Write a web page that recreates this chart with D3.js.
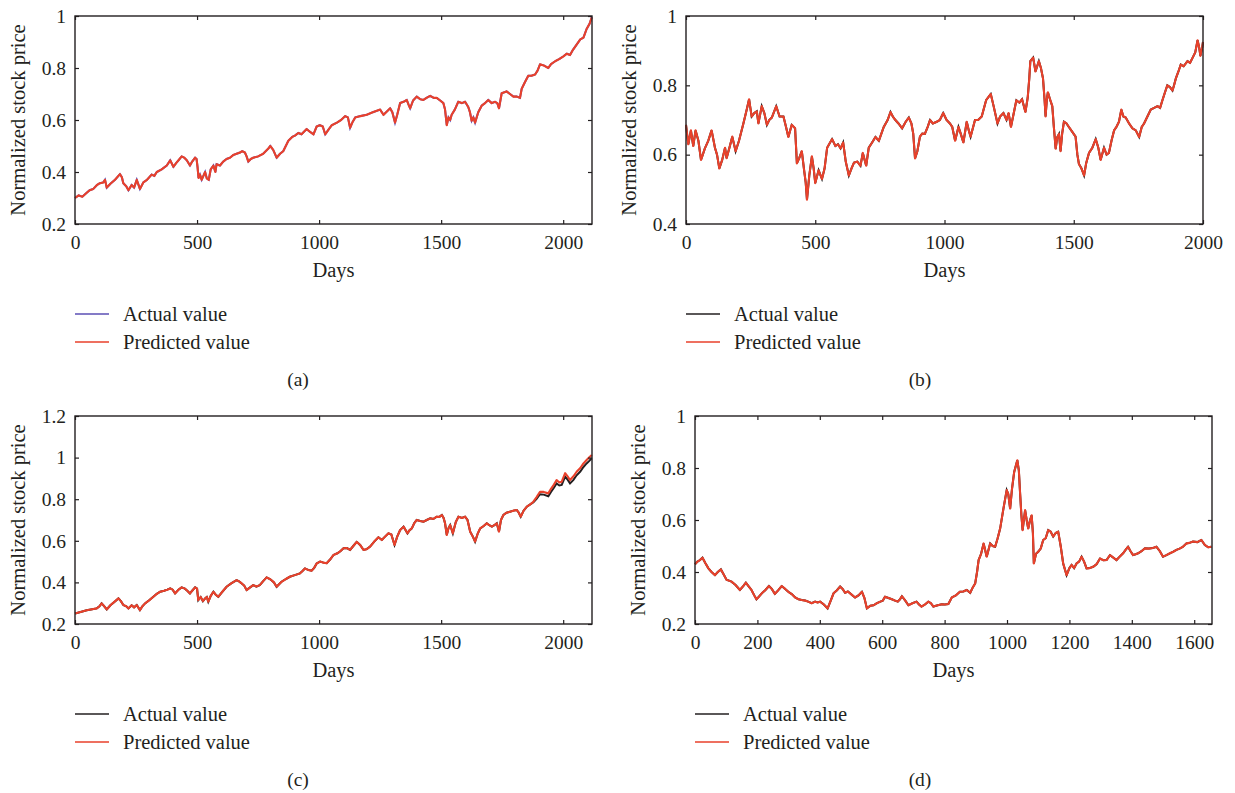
<!DOCTYPE html>
<html>
<head>
<meta charset="utf-8">
<script src="https://cdn.jsdelivr.net/npm/d3@7"></script>
<style>
    body { margin: 0; background: #fff; }
    text { font-family: "Liberation Serif", "DejaVu Serif", serif; fill: #231f20; }
</style>
</head>
<body>
<div id="chart"></div>
<script>
(function(d3) {
    'use strict';

    // [day, normalized price]
    var seriesA = [[0,0.300],[15,0.31],[30,0.305],[48,0.32],[60,0.33],[75,0.335],[90,0.35],[102,0.357],[116,0.36],[123,0.37],[130,0.34],[145,0.355],[164,0.37],[184,0.392],[192,0.38],[198,0.357],[210,0.345],[219,0.33],[232,0.35],[242,0.34],[253,0.37],[266,0.335],[280,0.36],[295,0.37],[314,0.39],[325,0.385],[335,0.40],[355,0.41],[376,0.425],[390,0.445],[403,0.42],[415,0.435],[424,0.445],[437,0.46],[448,0.455],[458,0.445],[471,0.425],[480,0.44],[492,0.455],[498,0.45],[502,0.42],[506,0.377],[512,0.39],[519,0.37],[526,0.385],[533,0.40],[540,0.375],[548,0.37],[556,0.41],[567,0.425],[575,0.40],[580,0.43],[594,0.425],[607,0.44],[621,0.45],[635,0.455],[648,0.465],[662,0.47],[676,0.475],[685,0.48],[696,0.475],[703,0.46],[710,0.44],[720,0.45],[730,0.455],[750,0.46],[771,0.47],[792,0.49],[800,0.50],[812,0.485],[826,0.455],[840,0.47],[853,0.48],[874,0.52],[890,0.535],[901,0.54],[915,0.55],[928,0.545],[949,0.565],[962,0.555],[977,0.545],[990,0.575],[1003,0.58],[1015,0.575],[1025,0.545],[1040,0.565],[1052,0.58],[1073,0.59],[1090,0.60],[1107,0.615],[1118,0.61],[1127,0.57],[1136,0.59],[1148,0.61],[1170,0.615],[1195,0.62],[1220,0.63],[1250,0.64],[1264,0.62],[1280,0.635],[1291,0.645],[1300,0.63],[1311,0.59],[1320,0.62],[1332,0.665],[1346,0.67],[1359,0.677],[1366,0.66],[1373,0.645],[1385,0.675],[1400,0.69],[1414,0.68],[1427,0.677],[1440,0.685],[1455,0.693],[1470,0.685],[1482,0.685],[1496,0.675],[1509,0.665],[1516,0.64],[1523,0.58],[1530,0.61],[1537,0.60],[1543,0.62],[1556,0.64],[1570,0.67],[1585,0.665],[1598,0.67],[1611,0.65],[1618,0.63],[1625,0.597],[1632,0.61],[1639,0.59],[1652,0.63],[1666,0.655],[1680,0.665],[1693,0.677],[1707,0.665],[1721,0.67],[1730,0.665],[1737,0.645],[1748,0.703],[1768,0.71],[1782,0.70],[1796,0.69],[1810,0.69],[1823,0.685],[1830,0.72],[1843,0.745],[1857,0.77],[1870,0.77],[1885,0.775],[1895,0.79],[1905,0.814],[1920,0.81],[1939,0.80],[1950,0.815],[1967,0.826],[1985,0.835],[2001,0.845],[2015,0.855],[2028,0.85],[2040,0.87],[2055,0.89],[2070,0.91],[2083,0.917],[2096,0.95],[2108,0.97],[2117,0.995]];

    var seriesB = [[0,0.686],[9,0.63],[19,0.67],[28,0.625],[37,0.67],[48,0.64],[58,0.585],[65,0.60],[73,0.618],[86,0.64],[99,0.67],[112,0.62],[120,0.60],[129,0.56],[140,0.585],[151,0.62],[157,0.59],[168,0.62],[179,0.652],[192,0.61],[205,0.64],[222,0.69],[235,0.73],[244,0.76],[254,0.71],[264,0.72],[274,0.725],[280,0.69],[293,0.74],[303,0.72],[313,0.686],[322,0.70],[332,0.707],[349,0.74],[362,0.71],[377,0.71],[387,0.68],[396,0.651],[409,0.686],[422,0.676],[429,0.575],[438,0.59],[448,0.61],[457,0.555],[463,0.52],[468,0.47],[477,0.54],[487,0.595],[494,0.56],[500,0.518],[513,0.555],[526,0.53],[536,0.56],[546,0.62],[565,0.645],[578,0.625],[588,0.63],[598,0.618],[608,0.635],[618,0.58],[630,0.54],[640,0.56],[650,0.577],[663,0.58],[675,0.568],[684,0.605],[697,0.568],[707,0.62],[720,0.635],[733,0.651],[746,0.64],[765,0.68],[780,0.70],[791,0.723],[800,0.71],[810,0.70],[822,0.69],[836,0.676],[850,0.695],[862,0.707],[872,0.69],[879,0.661],[886,0.589],[895,0.61],[905,0.652],[914,0.661],[924,0.66],[935,0.68],[944,0.70],[955,0.69],[970,0.695],[982,0.70],[995,0.72],[1008,0.70],[1021,0.69],[1030,0.68],[1041,0.64],[1054,0.68],[1063,0.66],[1073,0.635],[1086,0.695],[1094,0.67],[1101,0.652],[1118,0.70],[1130,0.70],[1144,0.71],[1161,0.757],[1179,0.775],[1190,0.74],[1205,0.69],[1215,0.71],[1228,0.72],[1240,0.70],[1248,0.72],[1257,0.68],[1268,0.72],[1278,0.757],[1290,0.75],[1300,0.76],[1313,0.723],[1322,0.765],[1328,0.82],[1332,0.87],[1343,0.88],[1352,0.84],[1365,0.87],[1373,0.85],[1381,0.82],[1387,0.76],[1391,0.71],[1396,0.76],[1400,0.78],[1408,0.76],[1417,0.74],[1423,0.68],[1430,0.617],[1436,0.65],[1443,0.66],[1449,0.61],[1455,0.66],[1462,0.695],[1472,0.69],[1481,0.68],[1495,0.665],[1507,0.652],[1514,0.60],[1520,0.573],[1530,0.56],[1540,0.54],[1548,0.575],[1559,0.605],[1572,0.62],[1585,0.645],[1595,0.62],[1604,0.585],[1617,0.62],[1627,0.60],[1636,0.605],[1646,0.64],[1656,0.67],[1665,0.68],[1675,0.695],[1684,0.73],[1692,0.71],[1701,0.707],[1714,0.69],[1727,0.676],[1740,0.67],[1753,0.651],[1763,0.68],[1772,0.69],[1785,0.71],[1798,0.73],[1811,0.735],[1824,0.74],[1834,0.735],[1843,0.757],[1853,0.78],[1862,0.80],[1872,0.795],[1882,0.785],[1888,0.80],[1895,0.82],[1905,0.84],[1914,0.86],[1925,0.855],[1940,0.87],[1950,0.865],[1960,0.88],[1970,0.895],[1979,0.93],[1985,0.91],[1990,0.885],[1997,0.91],[2000,0.925]];

    var predictedC = [[0,0.25],[15,0.255],[30,0.26],[48,0.266],[65,0.27],[89,0.275],[100,0.285],[109,0.299],[120,0.285],[130,0.27],[145,0.29],[160,0.305],[178,0.323],[188,0.31],[198,0.291],[210,0.285],[219,0.275],[232,0.29],[242,0.28],[253,0.291],[266,0.267],[276,0.285],[287,0.299],[305,0.315],[321,0.331],[335,0.345],[349,0.355],[365,0.36],[378,0.365],[390,0.371],[400,0.365],[410,0.347],[424,0.365],[437,0.376],[450,0.37],[460,0.36],[471,0.347],[480,0.36],[492,0.376],[500,0.37],[505,0.315],[515,0.33],[524,0.31],[533,0.323],[540,0.33],[546,0.307],[556,0.335],[567,0.355],[577,0.34],[587,0.331],[600,0.35],[621,0.379],[640,0.395],[662,0.411],[672,0.405],[683,0.395],[693,0.385],[703,0.363],[716,0.375],[730,0.387],[743,0.38],[757,0.387],[770,0.405],[785,0.424],[800,0.415],[815,0.40],[826,0.379],[835,0.39],[846,0.403],[862,0.415],[880,0.427],[900,0.435],[921,0.443],[932,0.455],[942,0.467],[955,0.46],[969,0.456],[980,0.47],[990,0.491],[1004,0.50],[1018,0.495],[1031,0.492],[1045,0.51],[1059,0.532],[1075,0.54],[1087,0.55],[1100,0.564],[1114,0.565],[1127,0.556],[1140,0.575],[1154,0.595],[1168,0.58],[1182,0.556],[1195,0.56],[1209,0.572],[1225,0.595],[1243,0.617],[1257,0.604],[1270,0.62],[1284,0.636],[1296,0.63],[1309,0.58],[1320,0.62],[1332,0.652],[1346,0.668],[1362,0.636],[1370,0.65],[1380,0.66],[1390,0.685],[1400,0.70],[1414,0.695],[1428,0.692],[1441,0.70],[1455,0.708],[1468,0.705],[1482,0.716],[1493,0.715],[1503,0.724],[1510,0.71],[1516,0.684],[1523,0.628],[1530,0.66],[1537,0.676],[1548,0.636],[1560,0.69],[1571,0.716],[1585,0.71],[1598,0.716],[1608,0.70],[1619,0.644],[1630,0.62],[1639,0.596],[1650,0.635],[1660,0.66],[1673,0.67],[1687,0.684],[1697,0.675],[1708,0.668],[1718,0.675],[1728,0.684],[1737,0.644],[1745,0.70],[1755,0.724],[1768,0.735],[1782,0.74],[1796,0.745],[1810,0.748],[1818,0.735],[1826,0.716],[1838,0.745],[1851,0.764],[1865,0.775],[1878,0.788],[1891,0.81],[1905,0.836],[1920,0.835],[1939,0.828],[1950,0.85],[1962,0.87],[1973,0.892],[1984,0.88],[1994,0.884],[2008,0.925],[2018,0.91],[2028,0.892],[2042,0.91],[2055,0.932],[2070,0.95],[2083,0.972],[2096,0.988],[2106,1.0],[2117,1.012]];

    // actual values in (c) split from the prediction near the end
    var actualCTail = [[1878,0.785],[1891,0.802],[1905,0.824],[1920,0.822],[1939,0.814],[1950,0.835],[1962,0.855],[1973,0.876],[1984,0.866],[1994,0.869],[2008,0.908],[2018,0.894],[2028,0.876],[2042,0.893],[2055,0.915],[2070,0.933],[2083,0.955],[2096,0.972],[2106,0.983],[2117,0.997]];

    var seriesD = [[0,0.43],[8,0.44],[16,0.446],[24,0.455],[33,0.435],[43,0.414],[53,0.40],[64,0.388],[73,0.40],[83,0.41],[92,0.39],[101,0.37],[117,0.363],[130,0.35],[144,0.331],[154,0.345],[163,0.359],[172,0.345],[181,0.331],[190,0.31],[197,0.295],[205,0.305],[214,0.318],[225,0.33],[237,0.346],[246,0.335],[256,0.316],[267,0.33],[278,0.346],[289,0.335],[299,0.324],[310,0.315],[321,0.302],[332,0.295],[342,0.292],[353,0.29],[363,0.286],[374,0.28],[385,0.286],[393,0.283],[401,0.286],[413,0.275],[425,0.26],[435,0.29],[444,0.318],[455,0.33],[465,0.344],[473,0.335],[481,0.32],[490,0.325],[497,0.318],[505,0.31],[513,0.302],[524,0.31],[535,0.324],[543,0.30],[551,0.26],[562,0.27],[572,0.272],[583,0.28],[594,0.286],[602,0.29],[609,0.305],[620,0.30],[631,0.295],[641,0.29],[650,0.286],[657,0.295],[663,0.307],[674,0.29],[684,0.272],[697,0.28],[710,0.286],[718,0.275],[726,0.267],[737,0.275],[748,0.286],[756,0.28],[764,0.267],[778,0.272],[791,0.276],[801,0.275],[812,0.277],[823,0.302],[836,0.31],[849,0.324],[860,0.325],[871,0.331],[882,0.32],[890,0.34],[898,0.356],[904,0.40],[909,0.446],[917,0.47],[925,0.51],[935,0.459],[946,0.51],[954,0.50],[962,0.497],[970,0.53],[978,0.567],[988,0.64],[999,0.715],[1004,0.70],[1010,0.644],[1016,0.72],[1023,0.785],[1033,0.83],[1038,0.79],[1042,0.702],[1046,0.62],[1050,0.561],[1058,0.638],[1063,0.60],[1068,0.567],[1074,0.60],[1079,0.618],[1083,0.55],[1086,0.433],[1093,0.47],[1100,0.478],[1108,0.49],[1116,0.523],[1124,0.53],[1132,0.561],[1140,0.555],[1148,0.536],[1156,0.55],[1164,0.555],[1172,0.50],[1180,0.433],[1191,0.388],[1200,0.415],[1207,0.427],[1215,0.415],[1223,0.433],[1231,0.44],[1239,0.459],[1247,0.44],[1255,0.414],[1265,0.415],[1276,0.42],[1287,0.43],[1298,0.452],[1309,0.445],[1319,0.446],[1330,0.465],[1341,0.455],[1351,0.446],[1362,0.46],[1372,0.472],[1380,0.485],[1388,0.497],[1396,0.48],[1404,0.465],[1412,0.468],[1420,0.472],[1431,0.48],[1442,0.491],[1455,0.49],[1467,0.492],[1479,0.497],[1490,0.48],[1500,0.459],[1511,0.465],[1522,0.472],[1533,0.478],[1543,0.485],[1553,0.49],[1564,0.497],[1575,0.51],[1585,0.512],[1596,0.517],[1610,0.515],[1623,0.523],[1634,0.504],[1645,0.495],[1655,0.497]];

    var xTicksLong = [0, 500, 1000, 1500, 2000];
    var xTicksD = [0, 200, 400, 600, 800, 1000, 1200, 1400, 1600];
    var yTicksA = [0.2, 0.4, 0.6, 0.8, 1];
    var yTicksB = [0.4, 0.6, 0.8, 1];
    var yTicksC = [0.2, 0.4, 0.6, 0.8, 1, 1.2];
    var legendLabels = ['Actual value', 'Predicted value'];
    var captions = ['(a)', '(b)', '(c)', '(d)'];

    var width = 1235,
        height = 793,
        plotW = 517,
        plotH = 208;

    var ink = '#231f20',
        red = '#e9412b';

    var svg = d3.select('#chart').append('svg')
        .attr('width', width)
        .attr('height', height);

    var actualC = predictedC.filter(function(d) { return d[0] < 1878; }).concat(actualCTail);

    var panels = [
        { left: 75, top: 16, xMax: 2118, xTicks: xTicksLong, yDom: [0.2, 1], yTicks: yTicksA,
          actual: seriesA, predicted: seriesA, actualColor: '#5b4fb5', cap: captions[0], capX: 298 },
        { left: 686, top: 16, xMax: 2000, xTicks: xTicksLong, yDom: [0.4, 1], yTicks: yTicksB,
          actual: seriesB, predicted: seriesB, actualColor: ink, cap: captions[1], capX: 920 },
        { left: 75, top: 416, xMax: 2118, xTicks: xTicksLong, yDom: [0.2, 1.2], yTicks: yTicksC,
          actual: actualC, predicted: predictedC, actualColor: ink, cap: captions[2], capX: 298 },
        { left: 695, top: 416, xMax: 1657, xTicks: xTicksD, yDom: [0.2, 1], yTicks: yTicksA,
          actual: seriesD, predicted: seriesD, actualColor: ink, cap: captions[3], capX: 920 }
    ];

    panels.forEach(drawPanel);

    function drawPanel(p) {
        var g = svg.append('g')
            .attr('transform', 'translate(' + p.left + ',' + p.top + ')');

        var x = d3.scaleLinear().domain([0, p.xMax]).range([0, plotW]);
        var y = d3.scaleLinear().domain(p.yDom).range([plotH, 0]);
        var fmt = d3.format('~g');

        var line = d3.line()
            .x(function(d) { return x(d[0]); })
            .y(function(d) { return y(d[1]); });

        g.append('path')
            .datum(p.actual)
            .attr('fill', 'none')
            .attr('stroke', p.actualColor)
            .attr('stroke-width', 2)
            .attr('d', line);

        g.append('path')
            .datum(p.predicted)
            .attr('fill', 'none')
            .attr('stroke', red)
            .attr('stroke-width', 2.1)
            .attr('stroke-linejoin', 'round')
            .attr('d', line);

        var axes = [
            { ax: d3.axisBottom(x).tickValues(p.xTicks).tickFormat(fmt).tickPadding(11), t: 'translate(0,' + plotH + ')' },
            { ax: d3.axisLeft(y).tickValues(p.yTicks).tickFormat(fmt).tickPadding(9), t: null },
            { ax: d3.axisTop(x).tickValues(p.xTicks).tickFormat(''), t: null },
            { ax: d3.axisRight(y).tickValues(p.yTicks).tickFormat(''), t: 'translate(' + plotW + ',0)' }
        ];

        axes.forEach(function(a) {
            var ag = g.append('g')
                .attr('transform', a.t)
                .call(a.ax.tickSizeInner(-4).tickSizeOuter(0));
            ag.select('.domain').remove();
            ag.selectAll('line').attr('stroke', ink).attr('stroke-width', 1.2);
            ag.selectAll('text')
                .attr('fill', ink)
                .style('font-family', '"Liberation Serif", serif')
                .style('font-size', '19.5px');
        });

        g.append('rect')
            .attr('width', plotW)
            .attr('height', plotH)
            .attr('fill', 'none')
            .attr('stroke', ink)
            .attr('stroke-width', 1.4);

        g.append('text')
            .attr('transform', 'translate(-50,' + plotH / 2 + ') rotate(-90)')
            .attr('text-anchor', 'middle')
            .style('font-size', '20.5px')
            .text('Normalized stock price');

        g.append('text')
            .attr('x', plotW / 2)
            .attr('y', plotH + 53)
            .attr('text-anchor', 'middle')
            .style('font-size', '20.5px')
            .text('Days');

        var legend = g.selectAll('.legend')
            .data(legendLabels)
            .enter()
            .append('g')
            .attr('class', 'legend')
            .attr('transform', function(d, i) {
                return 'translate(0,' + (298 + i * 28) + ')';
            });

        legend.append('line')
            .attr('x1', 0)
            .attr('x2', 34)
            .attr('stroke', function(d, i) { return i === 0 ? p.actualColor : red; })
            .attr('stroke-width', 1.5);

        legend.append('text')
            .attr('x', 48)
            .attr('y', 7)
            .style('font-size', '20.5px')
            .text(function(d) { return d; });

        g.append('text')
            .attr('x', p.capX - p.left)
            .attr('y', 370)
            .attr('text-anchor', 'middle')
            .style('font-size', '19.5px')
            .text(p.cap);
    }

})(window.d3);
</script>
</body>
</html>
